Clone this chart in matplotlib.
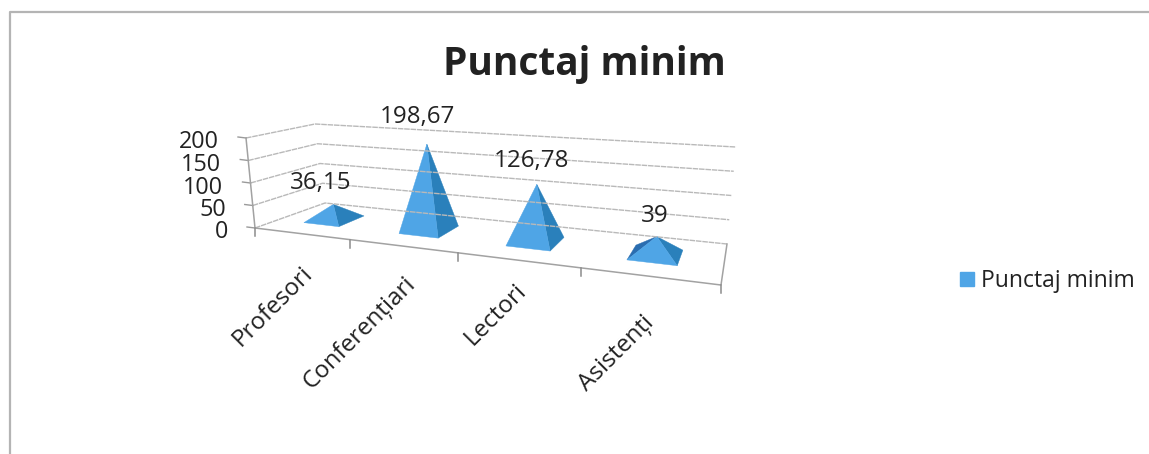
import numpy as np
import matplotlib
matplotlib.use('Agg')
import matplotlib.pyplot as plt
from matplotlib.patches import Polygon, Patch

categories = ['Profesori', 'Conferențiari', 'Lectori', 'Asistenți']
values = [36.15, 198.67, 126.78, 39]
value_labels = ['36,15', '198,67', '126,78', '39']
y_ticks = [0, 50, 100, 150, 200]
series_name = 'Punctaj minim'
chart_title = 'Punctaj minim'

plt.rcParams['font.family'] = ['Open Sans', 'DejaVu Sans']

# floor corners in pixels: front left, front right, back right, back left
FL, FR, BR, BL = (255, 228), (721, 285), (727, 244), (325, 203)
# how far value 200 lifts a point at each corner
UP_FL, UP_FR, UP_BR, UP_BL = (-9, -90), (9, -106), (9, -97), (-10, -79)
VMAX = 200.0
NCAT = len(categories)


def floor_matrix():
    src = [(0, 0), (1, 0), (1, 1), (0, 1)]
    dst = [FL, FR, BR, BL]
    A, b = [], []
    for (s, t), (x, y) in zip(src, dst):
        A.append([s, t, 1, 0, 0, 0, -s * x, -t * x])
        A.append([0, 0, 0, s, t, 1, -s * y, -t * y])
        b += [x, y]
    h = np.linalg.solve(np.array(A, float), np.array(b, float))
    return np.append(h, 1).reshape(3, 3)


H = floor_matrix()


def proj(u, d, v=0.0):
    # u category position, d depth 0-1, v chart value -> pixel
    s = u / NCAT
    p = H @ np.array([s, d, 1.0])
    x, y = p[0] / p[2], p[1] / p[2]
    front = (1 - s) * np.array(UP_FL) + s * np.array(UP_FR)
    back = (1 - s) * np.array(UP_BL) + s * np.array(UP_BR)
    up = (1 - d) * front + d * back
    return np.array([x, y]) + up * v / VMAX


fig = plt.figure(figsize=(11.49, 4.54), dpi=100)
ax = fig.add_axes([0, 0, 1, 1])
ax.set_xlim(0, 1149)
ax.set_ylim(454, 0)
ax.axis('off')

# scan border
ax.plot([10, 10, 1149], [454, 12, 12], color='#b4b4b4', lw=1.6)

grid_color = '#b9b9b9'
for v in y_ticks:
    pts = np.array([proj(0, 0, v), proj(0, 1, v), proj(NCAT, 1, v)])
    ax.plot(pts[:, 0], pts[:, 1], color=grid_color, lw=1.0, ls=(0, (4, 0.6)))
    p = proj(0, 0, v)
    ax.plot([p[0] - 8, p[0]], [p[1] - 1, p[1]], color='#9a9a9a', lw=1.0)
    ax.text(p[0] - 27, p[1] + 4.5, str(v), ha='right', va='center',
            fontsize=16.8, color='#222222')

# axis lines
edge = np.array([proj(0, 0, 200), proj(0, 0), proj(NCAT, 0), proj(NCAT, 1)])
ax.plot(edge[:, 0], edge[:, 1], color='#a2a2a2', lw=1.1)
for i in range(NCAT + 1):
    p = proj(i, 0)
    ax.plot([p[0], p[0]], [p[1], p[1] + 8], color='#8c8c8c', lw=1.1)

# pyramids
half_u = 0.19
half_d = 0.2
tip_scale = 0.95
light = '#4fa5e6'
dark = '#2a80bb'
left_c = '#2a6db0'
back_c = '#3f92d2'
value_dy = [-21, -27, -23, -21]
for i, (val, lab) in enumerate(zip(values, value_labels)):
    c = i + 0.48
    a = proj(c - half_u, 0.5 - half_d)
    b = proj(c + half_u, 0.5 - half_d)
    e = proj(c + half_u, 0.5 + half_d)
    f = proj(c - half_u, 0.5 + half_d)
    tip = proj(c, 0.5, val * tip_scale)
    faces = [(f, e, back_c), (a, f, left_c), (e, b, dark), (b, a, light)]
    for p, q, col in faces:
        # skip faces turned away from the viewer
        area = (q[0] - p[0]) * (tip[1] - p[1]) - (q[1] - p[1]) * (tip[0] - p[0])
        if area < 0:
            continue
        ax.add_patch(Polygon([p, q, tip], closed=True, fc=col, ec=col, lw=0.3))
    ax.text(tip[0] - 13 + 3.6 * i, tip[1] + value_dy[i], lab, ha='center', va='center',
            fontsize=17.4, color='#222222')

# category labels
label_dx = [-1, 1, -3, -6]
label_dy = [28, 26, 19, 35]
for i, name in enumerate(categories):
    p = proj(i + 0.5, 0)
    ax.text(p[0] + label_dx[i], p[1] + label_dy[i], name, rotation=45,
            rotation_mode='anchor', ha='right', va='top', fontsize=17.4,
            color='#222222')

ax.text(584.5, 65, chart_title, ha='center', va='center', fontsize=28,
        fontweight='bold', color='#222222')

leg = ax.legend(handles=[Patch(fc=light, ec=light, label=series_name)],
                loc='center left', bbox_to_anchor=(960 / 1149, 1 - 281 / 454),
                frameon=False, fontsize=16.5, handlelength=0.6, handleheight=0.6,
                handletextpad=0.3, borderpad=0, borderaxespad=0,
                labelcolor='#222222')

fig.savefig('out.png', dpi=100)
